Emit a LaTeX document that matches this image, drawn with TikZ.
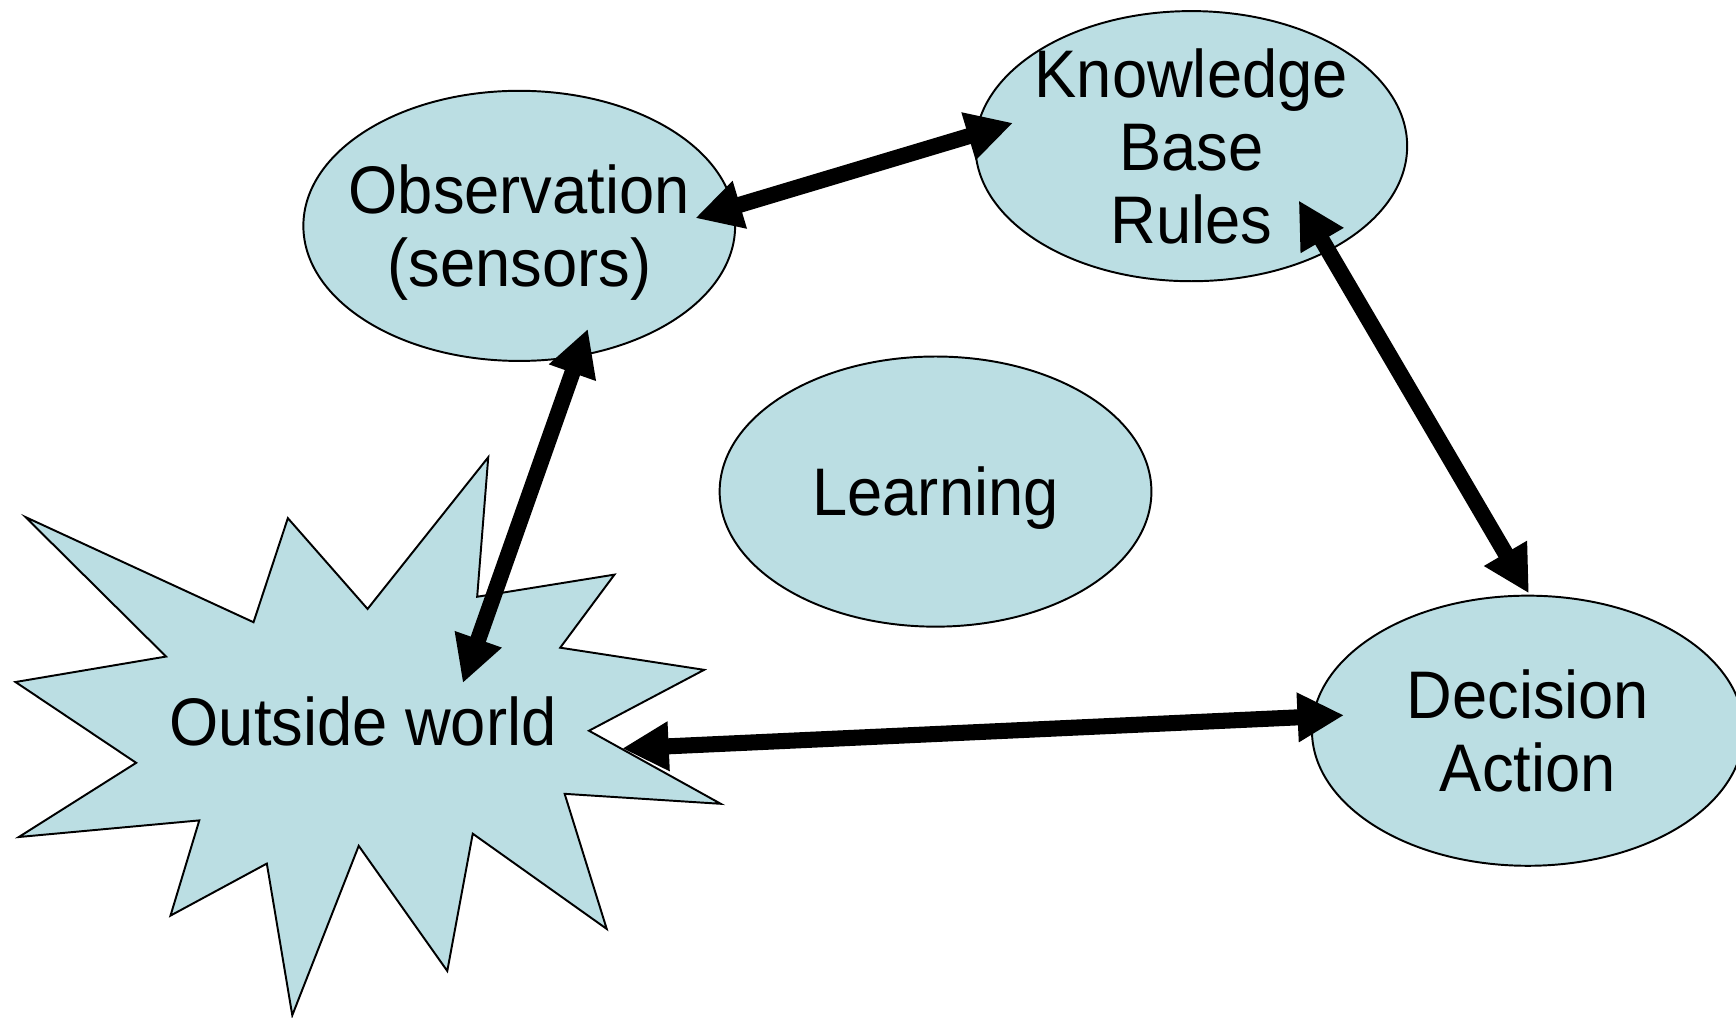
\documentclass[tikz,border=0pt]{standalone}
\usepackage{fontspec}
\setmainfont[FakeStretch=0.94]{Liberation Sans}
\usetikzlibrary{shapes.geometric,arrows.meta}
\definecolor{paleblue}{RGB}{187,222,227}

\begin{document}
\begin{tikzpicture}[x=0.1mm,y=-0.1mm,
    font=\fontsize{17.3}{18.8}\selectfont,
    link/.style={line width=1.45mm,
      {Triangle[length=4.2mm,width=4.2mm]}-{Triangle[length=4.2mm,width=4.2mm]}}]
  \useasboundingbox (0,0) rectangle (1568,919);
  \clip (0,0) rectangle (1568,919);

  % outside world burst
  \draw[line width=0.5pt,fill=paleblue] (441,413) -- (431,539) -- (555,519) -- (506,585)
    -- (636,605) -- (532,660) -- (651,726) -- (510,717) -- (548,839) -- (427,753)
    -- (404,877) -- (324,764) -- (264,917) -- (241,780) -- (154,827) -- (180,741)
    -- (17,756) -- (123,689) -- (14,616) -- (150,593) -- (23,467) -- (229,562)
    -- (260,468) -- (332,550) -- cycle;
  \node (world) at (328,652) {Outside world};

  \begin{scope}[every node/.style={ellipse,draw,line width=0.5pt,fill=paleblue,
      minimum width=39mm,minimum height=24.4mm,inner sep=-2mm,text depth=0pt,align=center}]
    \node (obs) at (469,204) {Observation\\(sensors)};
    \node (know) at (1076,132) {Knowledge\\Base\\Rules};
    \node (learn) at (845,444) {Learning};
    \node (dec) at (1380,660) {Decision\\Action};
  \end{scope}

  \begin{scope}
    \draw[link] ([shift={(159,-7)}]obs.center) -- ([shift={(-161,-21)}]know.center);
    \draw[link] ([shift={(62,93)}]obs.center) -- ([shift={(90,-35)}]world.center);
    \draw[link] ([shift={(97,49)}]know.center) -- ([shift={(1,-124)}]dec.center);
    \draw[link] ([shift={(234,24)}]world.center) -- ([shift={(-166,-14)}]dec.center);
  \end{scope}
\end{tikzpicture}
\end{document}
